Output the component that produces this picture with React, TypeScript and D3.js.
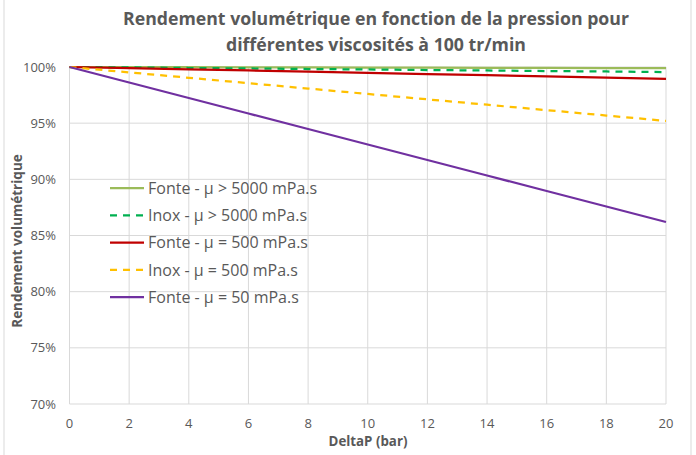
import React from "react";
import * as d3 from "d3";

const pressures = [0, 2, 4, 6, 8, 10, 12, 14, 16, 18, 20];
const fonte5000 = [100, 99.99, 99.98, 99.97, 99.96, 99.95, 99.94, 99.93, 99.92, 99.91, 99.9];
const inox5000 = [100, 99.96, 99.91, 99.87, 99.82, 99.78, 99.73, 99.69, 99.64, 99.6, 99.55];
const fonte500 = [100, 99.9, 99.79, 99.69, 99.58, 99.48, 99.37, 99.27, 99.16, 99.06, 98.95];
const inox500 = [100, 99.52, 99.04, 98.56, 98.08, 97.6, 97.12, 96.64, 96.16, 95.68, 95.2];
const fonte50 = [100, 98.62, 97.24, 95.86, 94.48, 93.1, 91.72, 90.34, 88.96, 87.58, 86.2];

const seriesNames = [
  "Fonte - µ > 5000 mPa.s",
  "Inox - µ > 5000 mPa.s",
  "Fonte - µ = 500 mPa.s",
  "Inox - µ = 500 mPa.s",
  "Fonte - µ = 50 mPa.s",
];
const seriesColors = ["#9bbb59", "#00b050", "#c00000", "#ffc000", "#7030a0"];
const seriesDashed = [false, true, false, true, false];
const seriesValues = [fonte5000, inox5000, fonte500, inox500, fonte50];

const xTicks = [0, 2, 4, 6, 8, 10, 12, 14, 16, 18, 20];
const yTicks = [70, 75, 80, 85, 90, 95, 100];

const titleLines = [
  "Rendement volumétrique en fonction de la pression pour",
  "différentes viscosités à 100 tr/min",
];

const W = 696;
const H = 455;
const FONT = "'Open Sans', 'Liberation Sans', sans-serif";
const TXT = "#595959";

export default function App() {
  const x = d3.scaleLinear().domain([0, 20]).range([69.5, 666]);
  const y = d3.scaleLinear().domain([70, 100]).range([404, 67]);
  const line = d3
    .line<number>()
    .x((_, i) => x(pressures[i]))
    .y((d) => y(d));

  const legendX = 110;
  const legendY0 = 188;
  const legendStep = 27.3;

  return (
    <svg
      width={W}
      height={H}
      style={{ position: "absolute", left: 0, top: 0, background: "#fff" }}
    >
      <rect x={0} y={0} width={W} height={H} fill="#fff" />
      <line x1={4} y1={0} x2={4} y2={H} stroke="#d9d9d9" strokeWidth={1} />
      <line x1={691} y1={0} x2={691} y2={H} stroke="#d9d9d9" strokeWidth={1} />

      {titleLines.map((t, i) => (
        <text
          key={i}
          x={376}
          y={25 + i * 25.5}
          textAnchor="middle"
          fontFamily={FONT}
          fontWeight="bold"
          fontSize={17.7}
          fill={TXT}
        >
          {t}
        </text>
      ))}

      {/* grid */}
      {yTicks.map((t) => (
        <line
          key={"gy" + t}
          x1={x(0)}
          x2={x(20)}
          y1={y(t)}
          y2={y(t)}
          stroke="#d9d9d9"
          strokeWidth={1}
        />
      ))}
      {xTicks.map((t) => (
        <line
          key={"gx" + t}
          x1={x(t)}
          x2={x(t)}
          y1={y(70)}
          y2={y(100)}
          stroke="#d9d9d9"
          strokeWidth={1}
        />
      ))}

      {/* tick labels */}
      {yTicks.map((t) => (
        <text
          key={"ly" + t}
          x={56}
          y={y(t) + 4.5}
          textAnchor="end"
          fontFamily={FONT}
          fontSize={13}
          fill={TXT}
        >
          {t + "%"}
        </text>
      ))}
      {xTicks.map((t) => (
        <text
          key={"lx" + t}
          x={x(t)}
          y={427.5}
          textAnchor="middle"
          fontFamily={FONT}
          fontSize={13}
          fill={TXT}
        >
          {t}
        </text>
      ))}

      <text
        x={368}
        y={446}
        textAnchor="middle"
        fontFamily={FONT}
        fontWeight="bold"
        fontSize={13.3}
        fill={TXT}
      >
        DeltaP (bar)
      </text>
      <text
        transform={`translate(22,241) rotate(-90)`}
        textAnchor="middle"
        fontFamily={FONT}
        fontWeight="bold"
        fontSize={13.5}
        fill={TXT}
      >
        Rendement volumétrique
      </text>

      {/* series */}
      {seriesValues.map((vals, i) => (
        <path
          key={"s" + i}
          d={line(vals) || ""}
          fill="none"
          stroke={seriesColors[i]}
          strokeWidth={2.25}
          strokeDasharray={seriesDashed[i] ? "7,6" : undefined}
        />
      ))}

      {/* legend */}
      {seriesNames.map((n, i) => {
        const ly = legendY0 + i * legendStep;
        return (
          <g key={"lg" + i}>
            <line
              x1={legendX}
              x2={legendX + 34}
              y1={ly}
              y2={ly}
              stroke={seriesColors[i]}
              strokeWidth={2.25}
              strokeDasharray={seriesDashed[i] ? "7,6" : undefined}
            />
            <text
              x={legendX + 38}
              y={ly + 5.8}
              fontFamily={FONT}
              fontSize={16}
              fill={TXT}
            >
              {n}
            </text>
          </g>
        );
      })}
    </svg>
  );
}
